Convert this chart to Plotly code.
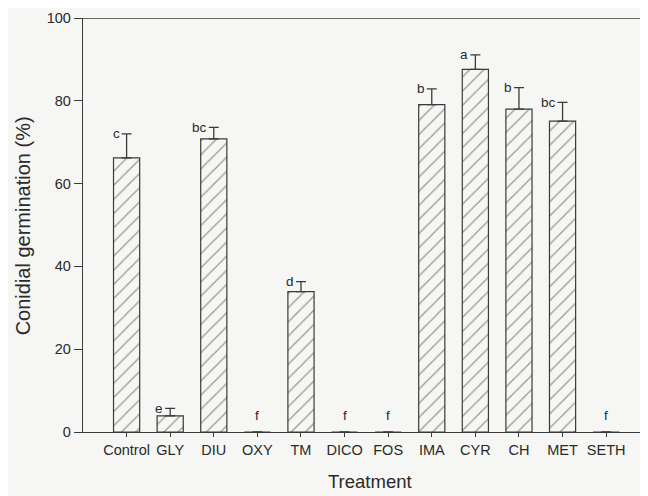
import plotly.graph_objects as go

categories = ["Control", "GLY", "DIU", "OXY", "TM", "DICO", "FOS", "IMA", "CYR", "CH", "MET", "SETH"]
germination = [66.2, 3.9, 70.8, 0, 33.9, 0, 0, 79.1, 87.6, 78.0, 75.1, 0]
sem = [5.8, 1.8, 2.8, 0, 2.4, 0, 0, 3.8, 3.5, 5.2, 4.5, 0]
letters = ["c", "e", "bc", "f", "d", "f", "f", "b", "a", "b", "bc", "f"]
y_ticks = [0, 20, 40, 60, 80, 100]

ink = "#2a2a2a"
line_ink = "#3a3a3a"
paper = "#f6f6f4"
font = "Liberation Sans, Arial, sans-serif"

fig = go.Figure()
fig.add_trace(go.Bar(
    x=list(range(len(categories))),
    y=germination,
    width=0.6,
    marker=dict(
        color=paper,
        line=dict(color=line_ink, width=1.2),
        pattern=dict(shape="/", fgcolor=line_ink, bgcolor=paper, size=10, solidity=0.13),
    ),
    error_y=dict(type="data", symmetric=False, array=sem, arrayminus=[0] * len(sem),
                 color=line_ink, thickness=1.3, width=5),
    showlegend=False,
))

annotations = []
for i, (m, e, lab) in enumerate(zip(germination, sem, letters)):
    if m > 0:
        annotations.append(dict(x=i, y=m + e, xref="x", yref="y", text=lab, showarrow=False,
                                xanchor="right", yanchor="middle", xshift=-5,
                                font=dict(family=font, size=13.5, color=ink)))
    else:
        annotations.append(dict(x=i, y=4, xref="x", yref="y", text=lab, showarrow=False,
                                xanchor="center", yanchor="middle",
                                font=dict(family=font, size=13.5, color=ink)))

annotations.append(dict(x=0.508, y=-0.12, xref="paper", yref="paper", text="Treatment",
                        showarrow=False, xanchor="center", yanchor="middle",
                        font=dict(family=font, size=18.5, color=ink)))
annotations.append(dict(x=-0.107, y=0.498, xref="paper", yref="paper", text="Conidial germination (%)",
                        showarrow=False, xanchor="center", yanchor="middle", textangle=-90,
                        font=dict(family=font, size=20, color=ink)))

fig.update_layout(
    width=640, height=488,
    margin=dict(l=75, r=0, t=10, b=64),
    paper_bgcolor=paper, plot_bgcolor=paper,
    font=dict(family=font, size=14.5, color=ink),
    annotations=annotations,
    shapes=[dict(type="line", xref="paper", yref="y", x0=0, x1=1, y0=100, y1=100,
                 line=dict(color=line_ink, width=1.3))],
    bargap=0.4,
)
fig.update_xaxes(
    range=[-1, 11.96], tickvals=list(range(len(categories))), ticktext=categories,
    showline=True, linecolor=line_ink, linewidth=1.3, ticks="outside", ticklen=4, tickcolor=line_ink,
    showgrid=False, zeroline=False, tickfont=dict(size=14.5),
)
fig.update_yaxes(
    range=[0, 100], tickvals=y_ticks, showline=True, linecolor=line_ink, linewidth=1.3,
    ticks="outside", ticklen=8, tickcolor=line_ink, showgrid=False, zeroline=False,
    tickfont=dict(size=14.5),
)

fig.write_html("out.html")
